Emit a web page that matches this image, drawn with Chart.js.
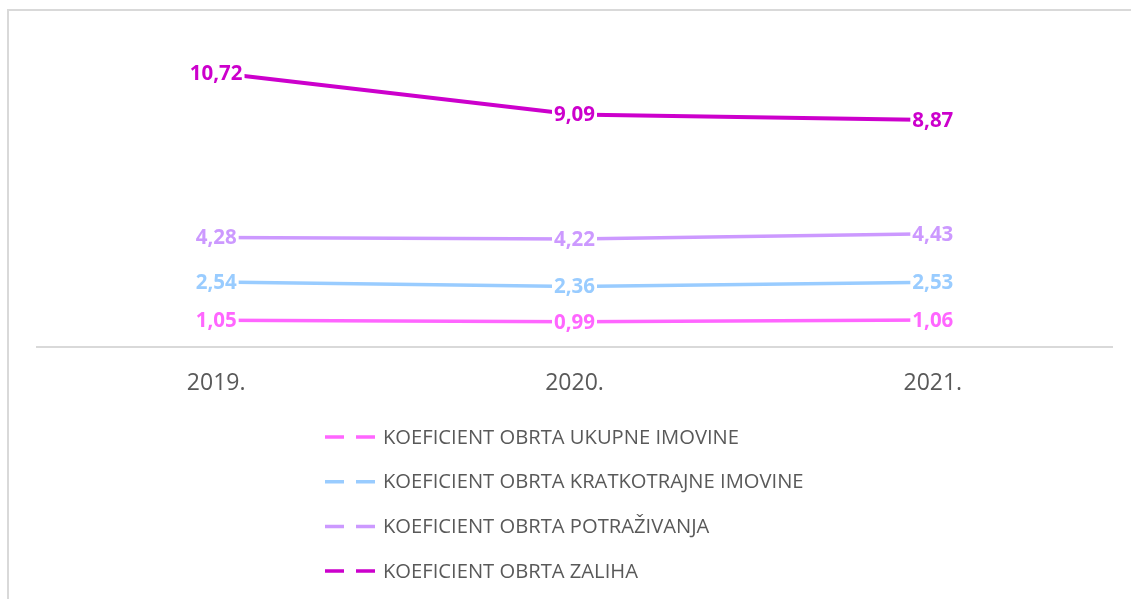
<!DOCTYPE html>
<html>
<head>
<meta charset="utf-8">
<script src="https://cdn.jsdelivr.net/npm/chart.js@4.4.1/dist/chart.umd.min.js"></script>
<style>
  html, body { margin: 0; padding: 0; background: #ffffff; }
  #wrap { position: relative; width: 1131px; height: 599px; overflow: hidden; }
  #frame { position: absolute; left: 7px; top: 9px; width: 1200px; height: 700px;
           border-left: 2px solid #d9d9d9; border-top: 2px solid #d9d9d9; box-sizing: border-box; }
  canvas { position: absolute; left: 0; top: 0; }
</style>
</head>
<body>
<div id="wrap">
  <div id="frame"></div>
  <canvas id="c" width="1131" height="599"></canvas>
</div>
<script>
const categories = ['2019.', '2020.', '2021.'];
const seriesNames = [
  'KOEFICIENT OBRTA UKUPNE IMOVINE',
  'KOEFICIENT OBRTA KRATKOTRAJNE IMOVINE',
  'KOEFICIENT OBRTA POTRAŽIVANJA',
  'KOEFICIENT OBRTA ZALIHA'
];
const ukupneImovine = [1.05, 0.99, 1.06];
const kratkotrajneImovine = [2.54, 2.36, 2.53];
const potrazivanja = [4.28, 4.22, 4.43];
const zaliha = [10.72, 9.09, 8.87];
const seriesColors = ['#FF66FF', '#99CCFF', '#CC99FF', '#CC00CC'];
const seriesWidths = [3.5, 3.5, 3.5, 4];

const allSeries = [ukupneImovine, kratkotrajneImovine, potrazivanja, zaliha];

const dataLabelPlugin = {
  id: 'valueLabels',
  afterDatasetsDraw(chart) {
    const ctx = chart.ctx;
    ctx.save();
    ctx.font = 'bold 20.5px "Open Sans", sans-serif';
    ctx.textAlign = 'center';
    ctx.textBaseline = 'middle';
    chart.data.datasets.forEach((ds, di) => {
      const meta = chart.getDatasetMeta(di);
      meta.data.forEach((pt, i) => {
        const txt = ds.data[i].toFixed(2).replace('.', ',');
        const w = ctx.measureText(txt).width;
        ctx.fillStyle = '#ffffff';
        ctx.fillRect(pt.x - w / 2 - 2, pt.y - 11, w + 4, 22);
        ctx.fillStyle = ds.borderColor;
        ctx.fillText(txt, pt.x, pt.y + 1);
      });
    });
    ctx.restore();
  }
};

const legendPlugin = {
  id: 'stackedLegend',
  afterDraw(chart) {
    const ctx = chart.ctx;
    ctx.save();
    ctx.font = '20.2px "Open Sans", sans-serif';
    ctx.textAlign = 'left';
    ctx.textBaseline = 'middle';
    const x0 = 325, y0 = 437, step = 44.7;
    chart.data.datasets.forEach((ds, i) => {
      const y = y0 + i * step;
      ctx.strokeStyle = ds.borderColor;
      ctx.lineWidth = 3.5;
      ctx.setLineDash([]);
      ctx.beginPath();
      ctx.moveTo(x0, y); ctx.lineTo(x0 + 19, y);
      ctx.moveTo(x0 + 31, y); ctx.lineTo(x0 + 50, y);
      ctx.stroke();
      ctx.fillStyle = '#595959';
      ctx.fillText(ds.label, x0 + 58, y + 1);
    });
    ctx.restore();
  }
};

new Chart(document.getElementById('c'), {
  type: 'line',
  data: {
    labels: categories,
    datasets: allSeries.map((vals, i) => ({
      label: seriesNames[i],
      data: vals,
      borderColor: seriesColors[i],
      backgroundColor: seriesColors[i],
      borderWidth: seriesWidths[i],
      pointRadius: 0,
      tension: 0,
      fill: false
    }))
  },
  options: {
    responsive: false,
    animation: false,
    devicePixelRatio: 1,
    layout: { padding: { left: 37, right: 19, top: 40, bottom: 200 } },
    plugins: {
      legend: { display: false },
      tooltip: { enabled: false }
    },
    scales: {
      x: {
        offset: true,
        grid: { display: false },
        border: { display: true, color: '#d9d9d9', width: 2 },
        ticks: { color: '#595959', font: { family: '"Open Sans", sans-serif', size: 23 }, padding: 15 },
        afterFit(scale) { scale.height = 52; }
      },
      y: {
        display: false,
        min: 0,
        max: 12
      }
    }
  },
  plugins: [dataLabelPlugin, legendPlugin]
});
</script>
</body>
</html>
